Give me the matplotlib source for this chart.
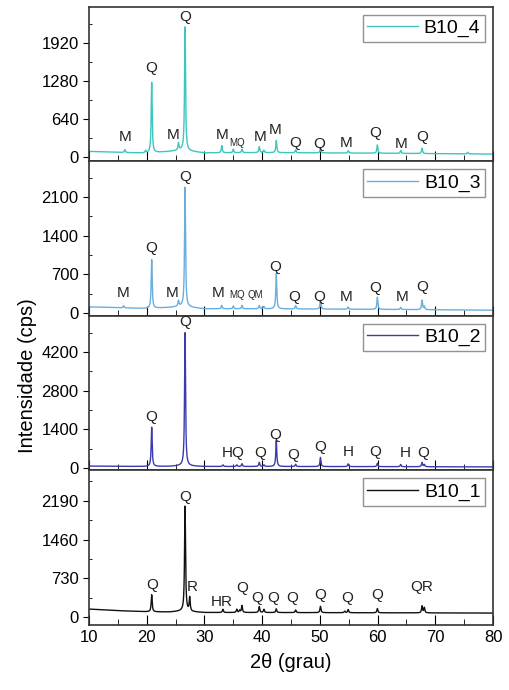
import numpy as np
import matplotlib
matplotlib.use("Agg")
import matplotlib.pyplot as plt
from matplotlib.ticker import MultipleLocator

plt.rcParams['font.family'] = ['Liberation Sans', 'DejaVu Sans']

# --- dados: picos (2theta, altura acima do fundo) de cada amostra ---
amostras = ["B10_4", "B10_3", "B10_2", "B10_1"]
cores = ["#3cc6bf", "#6aaede", "#3b3bb0", "#111111"]

fundo_2t = [10, 15, 20, 24, 26, 30, 40, 60, 80]
fundo_b10_4 = [90, 75, 60, 90, 110, 65, 70, 60, 45]
fundo_b10_3 = [110, 95, 80, 100, 120, 75, 75, 65, 50]
fundo_b10_2 = [70, 60, 55, 60, 80, 55, 55, 50, 40]
fundo_b10_1 = [150, 120, 100, 95, 110, 85, 85, 80, 75]

picos_b10_4_pos = [16.2, 19.8, 20.86, 25.5, 26.64, 33.0, 35.0, 36.5, 39.5, 40.3, 42.45, 45.8, 50.1, 54.9, 59.96, 64.0, 67.7, 75.6]
picos_b10_4_alt = [50, 40, 1190, 120, 2090, 120, 60, 60, 100, 40, 210, 50, 80, 40, 140, 50, 90, 30]

picos_b10_3_pos = [16.0, 20.86, 25.5, 26.64, 33.0, 35.0, 36.5, 39.5, 40.3, 42.45, 45.8, 50.1, 54.9, 59.96, 64.0, 67.7, 68.1]
picos_b10_3_alt = [40, 880, 100, 2160, 60, 50, 60, 60, 40, 650, 60, 160, 40, 220, 40, 170, 60]

picos_b10_2_pos = [20.86, 26.64, 33.2, 35.6, 36.5, 39.5, 40.3, 42.45, 45.8, 50.1, 54.9, 59.96, 64.0, 67.7, 68.1]
picos_b10_2_alt = [1420, 4820, 60, 60, 100, 150, 60, 950, 80, 330, 100, 120, 80, 150, 80]

picos_b10_1_pos = [20.86, 26.64, 27.45, 33.2, 35.6, 36.1, 36.5, 39.5, 40.3, 42.45, 45.8, 50.1, 54.3, 54.9, 59.96, 67.7, 68.1]
picos_b10_1_alt = [320, 1980, 260, 60, 60, 40, 130, 110, 60, 70, 50, 120, 30, 60, 80, 130, 100]

# rótulos das fases (texto, 2theta, intensidade)
rot_b10_4 = [("M", 16.2, 330), ("Q", 20.8, 1500), ("M", 24.6, 370), ("Q", 26.6, 2360),
             ("M", 33.0, 370), ("MQ", 35.6, 230), ("M", 39.6, 340), ("M", 42.2, 450),
             ("Q", 45.7, 240), ("Q", 49.8, 220), ("M", 54.5, 240), ("Q", 59.6, 400),
             ("M", 64.0, 220), ("Q", 67.7, 340)]
rot_b10_3 = [("M", 15.9, 360), ("Q", 20.8, 1180), ("M", 24.4, 360), ("Q", 26.6, 2460),
             ("M", 32.4, 360), ("MQ", 35.6, 320), ("QM", 38.8, 320), ("Q", 42.3, 830),
             ("Q", 45.5, 290), ("Q", 49.8, 290), ("M", 54.6, 290), ("Q", 59.6, 450),
             ("M", 64.2, 290), ("Q", 67.7, 470)]
rot_b10_2 = [("Q", 26.6, 5280), ("Q", 20.8, 1840), ("HQ", 35.0, 540), ("Q", 39.6, 540),
             ("Q", 42.2, 1200), ("Q", 45.4, 470), ("Q", 50.0, 760), ("H", 54.9, 580),
             ("Q", 59.6, 580), ("H", 64.8, 540), ("Q", 67.9, 560)]
rot_b10_1 = [("Q", 26.6, 2260), ("Q", 20.9, 600), ("R", 27.9, 570), ("HR", 33.0, 280),
             ("Q", 36.5, 550), ("Q", 39.2, 360), ("Q", 41.9, 360), ("Q", 45.2, 360),
             ("Q", 50.0, 420), ("Q", 54.7, 360), ("Q", 59.9, 420), ("QR", 67.7, 570)]

fundos = [fundo_b10_4, fundo_b10_3, fundo_b10_2, fundo_b10_1]
picos = [(picos_b10_4_pos, picos_b10_4_alt), (picos_b10_3_pos, picos_b10_3_alt),
         (picos_b10_2_pos, picos_b10_2_alt), (picos_b10_1_pos, picos_b10_1_alt)]
rotulos = [rot_b10_4, rot_b10_3, rot_b10_2, rot_b10_1]

ticks_y = [640, 700, 1400, 730]
limites_y = [(-80, 2530), (-55, 2740), (-90, 5500), (-150, 2760)]

two_theta = np.arange(10, 80.001, 0.02)


def difratograma(fundo, pos, alt, w=0.1):
    # fundo + picos lorentzianos
    y = np.interp(two_theta, fundo_2t, fundo)
    for p, h in zip(pos, alt):
        y = y + h / (1 + ((two_theta - p) / w) ** 2)
    return y


fig = plt.figure(figsize=(5.1, 6.9), dpi=100)
gs = fig.add_gridspec(4, 1, left=0.1745, right=0.9667, top=0.9899, bottom=0.0942, hspace=0)

axs = []
for i in range(4):
    ax = fig.add_subplot(gs[i], sharex=axs[0] if axs else None)
    axs.append(ax)
    y = difratograma(fundos[i], *picos[i])
    ax.plot(two_theta, y, color=cores[i], lw=1.0, label=amostras[i])

    for txt, xx, yy in rotulos[i]:
        fs = 7 if txt in ("MQ", "QM") else 11
        ax.text(xx, yy, txt, ha="center", va="center", fontsize=fs, color="#222222")

    ax.set_ylim(*limites_y[i])
    ax.set_xlim(10, 80)
    ax.yaxis.set_major_locator(MultipleLocator(ticks_y[i]))
    ax.yaxis.set_minor_locator(MultipleLocator(ticks_y[i] / 2))
    ax.xaxis.set_major_locator(MultipleLocator(10))
    ax.xaxis.set_minor_locator(MultipleLocator(5))
    ax.tick_params(axis="y", which="major", direction="out", length=4, labelsize=12)
    ax.tick_params(axis="y", which="minor", direction="in", length=2)
    ax.tick_params(axis="x", which="major", direction="in", length=7, labelsize=12)
    ax.tick_params(axis="x", which="minor", direction="in", length=4)
    if i < 3:
        ax.tick_params(axis="x", labelbottom=False)
    for s in ax.spines.values():
        s.set_linewidth(1.2)
        s.set_color("#333333")

    leg = ax.legend(loc="upper right", fontsize=14, handlelength=2.6, fancybox=False,
                    borderaxespad=0.4, borderpad=0.25, handletextpad=0.3)
    leg.get_frame().set_edgecolor("#777777")
    leg.get_frame().set_linewidth(1.0)

axs[-1].set_xlabel("2θ (grau)", fontsize=14.5, labelpad=6)
fig.text(0.053, 0.456, "Intensidade (cps)", rotation=90, ha="center", va="center", fontsize=14.5)

fig.savefig("out.png", dpi=100)
